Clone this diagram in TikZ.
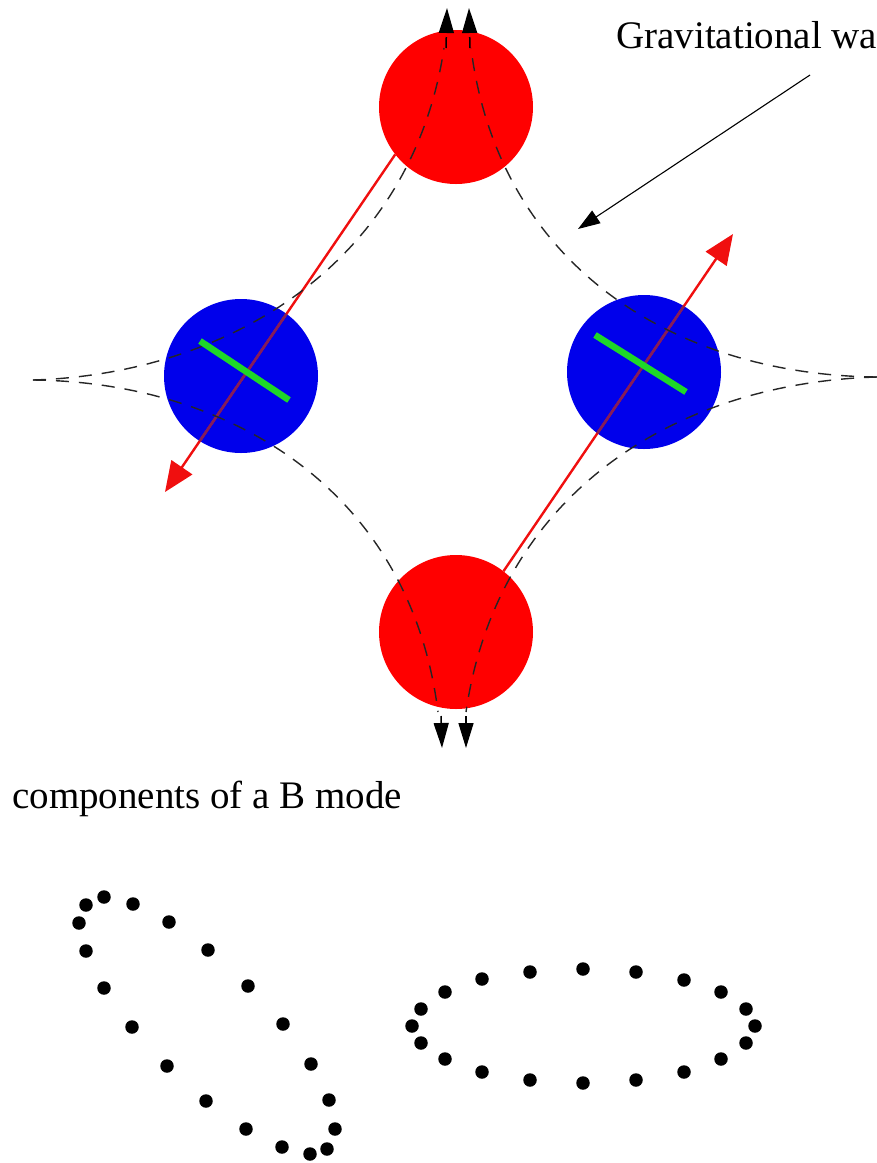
\documentclass[tikz,border=0pt]{standalone}
\usepackage{fontspec}
\setmainfont{Liberation Serif}
\usetikzlibrary{positioning,arrows.meta}

\begin{document}
\begin{tikzpicture}[
    x=1pt, y=-1pt,
    % Styles for the balls, bars and lines
    redball/.style={circle, fill={rgb,255:red,255;green,0;blue,0}, minimum size=154pt, inner sep=0pt},
    blueball/.style={circle, fill={rgb,255:red,0;green,0;blue,235}, minimum size=154pt, inner sep=0pt},
    bar/.style={line width=6.5pt, color={rgb,255:red,30;green,215;blue,40}},
    force/.style={-{Triangle[length=30pt,width=25pt]}, line width=2.4pt, color={rgb,255:red,240;green,15;blue,15}},
    forcein/.style={line width=2.4pt, color={rgb,255:red,130;green,30;blue,90}},
    wave/.style={dash pattern=on 13pt off 10pt, line width=1.4pt, color=black!85},
    stretch/.style={-{Triangle[length=25pt,width=15pt]}, line width=1.5pt, dash pattern=on 11pt off 9pt},
    pointer/.style={-{Triangle[length=22pt,width=15pt]}, line width=1.1pt},
    dot/.style={circle, fill=black, minimum size=13.5pt, inner sep=0pt},
    caption/.style={font=\fontsize{39}{44}\selectfont, anchor=base west, inner sep=0pt}
]
    \useasboundingbox (0,0) rectangle (877,1163);

    % Balls
    \node[redball] (redtop) at (456,107) {};
    \node[redball] (redbottom) at (456,632) {};
    \node[blueball] (blueleft) at (241,376) {};
    \node[blueball] (blueright) at (644,372) {};

    % Free ends
    \coordinate (tipleft) at (165,492);
    \coordinate (tipright) at (733,234);
    \coordinate (cuspleft) at (33,380);
    \coordinate (cuspright) at (877,377);

    % Red force arrows, darker where they cross the blue balls
    \draw[force] (redtop.218) -- (tipleft);
    \draw[force] (redbottom.52) -- (tipright);
    \begin{scope}
        \clip (241,376) circle (77);
        \draw[forcein] (redtop.218) -- (tipleft);
    \end{scope}
    \begin{scope}
        \clip (644,372) circle (77);
        \draw[forcein] (redbottom.52) -- (tipright);
    \end{scope}

    % Deformed ring, four dashed arcs
    \draw[wave] (cuspleft) .. controls (230,374) and (412,262) .. (444,48);
    \draw[wave] (cuspright) .. controls (670,375) and (498,262) .. (471,48);
    \draw[wave] (cuspleft) .. controls (230,382) and (410,490) .. (438,712);
    \draw[wave] (cuspright) .. controls (670,383) and (497,498) .. (466,712);

    % Black tips of the stretched arcs
    \coordinate (tipa) at (447,8);
    \coordinate (tipb) at (469,8);
    \coordinate (tipc) at (442,748);
    \coordinate (tipd) at (466,748);
    \draw[stretch] (446,48) -- (tipa);
    \draw[stretch] (470,48) -- (tipb);
    \draw[stretch] (441,716) -- (tipc);
    \draw[stretch] (466,716) -- (tipd);

    % Green bars
    \draw[bar] (200,341) -- (289,400);
    \draw[bar] (595,335) -- (686,392);

    % Labels
    \node[caption] (gwlabel) at (616,48) {Gravitational wa};
    \node[caption] (modelabel) at (12,808) {components of a B mode};
    \coordinate (pointerstart) at (810,75);
    \coordinate (pointerend) at (578,229);
    \draw[pointer] (pointerstart) -- (pointerend);

    % Tilted ring of dots
    \foreach \x/\y [count=\i] in {79/923,86/905,104/897,133/904,169/922,208/950,248/986,283/1024,311/1064,329/1100,335/1129,327/1149,310/1154,282/1147,246/1129,206/1101,167/1066,132/1027,104/988,86/951}
        \node[dot] (tilted-\i) at (\x,\y) {};

    % Flat ring of dots
    \foreach \x/\y [count=\i] in {412/1026,421/1009,445/992,482/979,530/972,583/969,636/972,684/980,721/992,746/1009,755/1026,746/1043,721/1059,684/1072,636/1080,583/1083,530/1080,482/1072,445/1059,421/1043}
        \node[dot] (flat-\i) at (\x,\y) {};
\end{tikzpicture}
\end{document}
